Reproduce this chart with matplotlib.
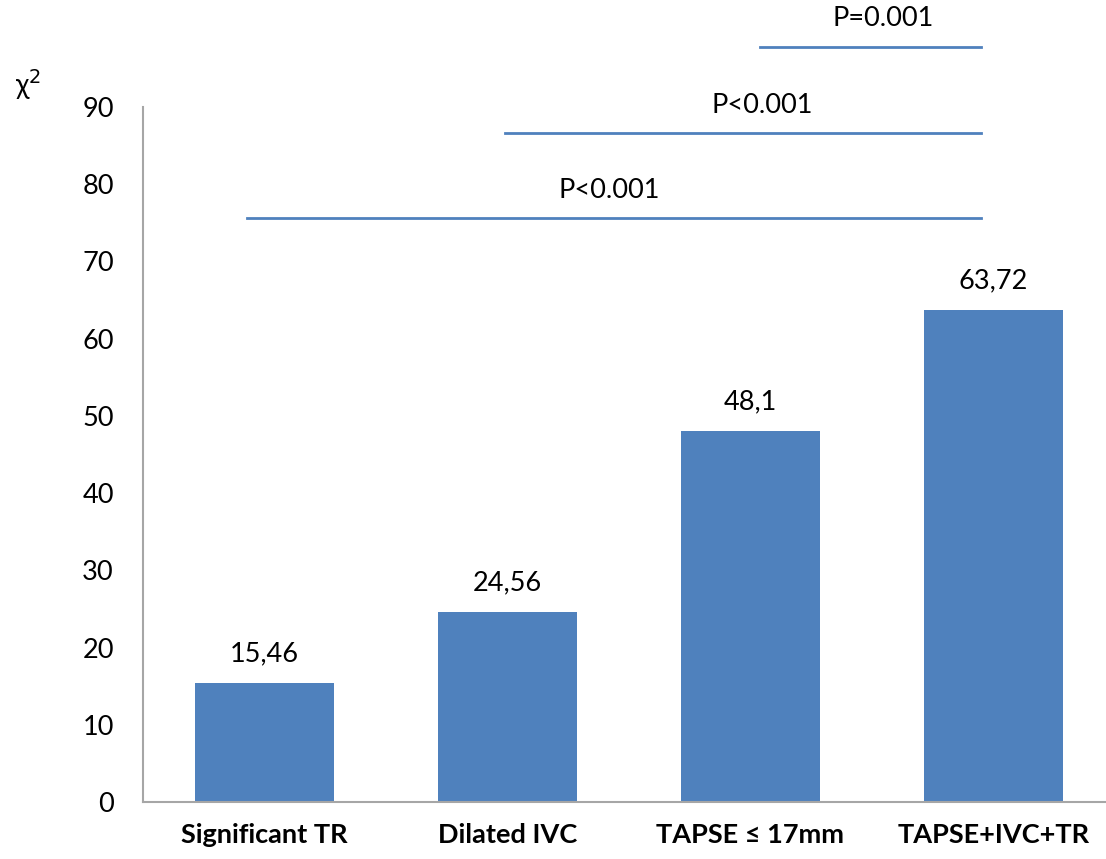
import matplotlib.pyplot as plt
import numpy as np

plt.rcParams['font.family'] = ['Lato', 'DejaVu Sans']

categorias = ['Significant TR', 'Dilated IVC', 'TAPSE ≤ 17mm', 'TAPSE+IVC+TR']
chi2 = [15.46, 24.56, 48.1, 63.72]
rotulos = ['15,46', '24,56', '48,1', '63,72']

# comparações: (inicio, fim, altura, texto)
comparacoes_inicio = [-0.07, 0.99, 2.04]
comparacoes_fim = [2.95, 2.95, 2.95]
comparacoes_altura = [75.6, 86.6, 97.8]
comparacoes_texto = ['P<0.001', 'P<0.001', 'P=0.001']

azul = '#4F81BD'
cinza = '#A6A6A6'

fig = plt.figure(figsize=(11.06, 8.59), dpi=100)
ax = fig.add_axes([143 / 1106, 1 - 802 / 859, (1115 - 143) / 1106, 695 / 859])

x = np.arange(len(categorias))
barras = ax.bar(x, chi2, width=0.57, color=azul, zorder=2)
ax.bar_label(barras, labels=rotulos, padding=12, fontsize=19.5)

ax.set_xlim(-0.5, 3.5)
ax.set_ylim(0, 90)
ax.set_yticks(np.arange(0, 91, 10))
ax.set_xticks(x)
ax.set_xticklabels(categorias, fontsize=19.5, fontweight='bold')
ax.tick_params(axis='y', length=0, pad=21, labelsize=19.5)
ax.tick_params(axis='x', length=0, pad=15)

for lado in ['top', 'right']:
    ax.spines[lado].set_visible(False)
for lado in ['left', 'bottom']:
    ax.spines[lado].set_color(cinza)
    ax.spines[lado].set_linewidth(1.5)

# linhas de significância
deslocamento_texto = [-0.02, 0.08, 0.05]
for ini, fim, alt, txt, dx in zip(comparacoes_inicio, comparacoes_fim,
                                  comparacoes_altura, comparacoes_texto,
                                  deslocamento_texto):
    ax.plot([ini, fim], [alt, alt], color=azul, lw=2, clip_on=False)
    ax.text((ini + fim) / 2 + dx, alt + 3.6, txt, ha='center', va='center',
            fontsize=19.5, clip_on=False)

fig.text(15 / 1106, 1 - 85 / 859, 'χ$^2$', fontsize=20, ha='left', va='center')

fig.savefig('out.png', dpi=100)
